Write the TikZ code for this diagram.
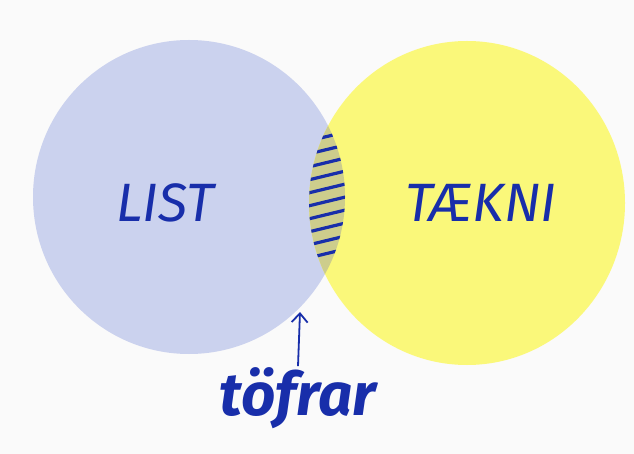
\documentclass[tikz,border=0pt]{standalone}
\usepackage{fontspec}
\setmainfont{Fira Sans}
\usetikzlibrary{arrows.meta, positioning}
\definecolor{listblue}{RGB}{203,210,238}
\definecolor{taekniyellow}{RGB}{250,248,122}
\definecolor{mixgreen}{RGB}{205,205,140}
\definecolor{inkblue}{RGB}{24,46,170}
\definecolor{paper}{RGB}{250,250,250}

\begin{document}
\begin{tikzpicture}[x=1pt,y=-1pt,
    word/.style={text=inkblue,inner sep=1pt,font=\fontsize{54}{54}\selectfont\itshape},
    hatch/.style={inkblue,line width=3.2pt,line cap=round},
    pointer/.style={inkblue,line width=1.8pt,-{Straight Barb[length=9pt,width=16pt]}}]
  \fill[paper] (0,0) rectangle (634,454);
  \useasboundingbox (0,0) rectangle (634,454);

  \fill[listblue] (189,197) ellipse [x radius=156,y radius=157];
  \fill[taekniyellow] (467,203) ellipse [x radius=158,y radius=162];
  \begin{scope}
    \clip (189,197) ellipse [x radius=156,y radius=157];
    \clip (467,203) ellipse [x radius=158,y radius=162];
    \fill[mixgreen] (290,90) rectangle (370,310);
    \foreach \y in {130,143,...,268}
      \draw[hatch] (300,\y) -- (362,\y-15);
  \end{scope}

  \node[word] (list) at (165,203) {LIST};
  \node[word] (taekni) at (481,203) {TÆKNI};
  \node[word,font=\fontsize{60}{60}\selectfont\bfseries\itshape] (tofrar) at (298,398) {töfrar};
  \coordinate (lens) at (300,312);
  \draw[pointer] (tofrar.north) -- (lens);
\end{tikzpicture}
\end{document}
